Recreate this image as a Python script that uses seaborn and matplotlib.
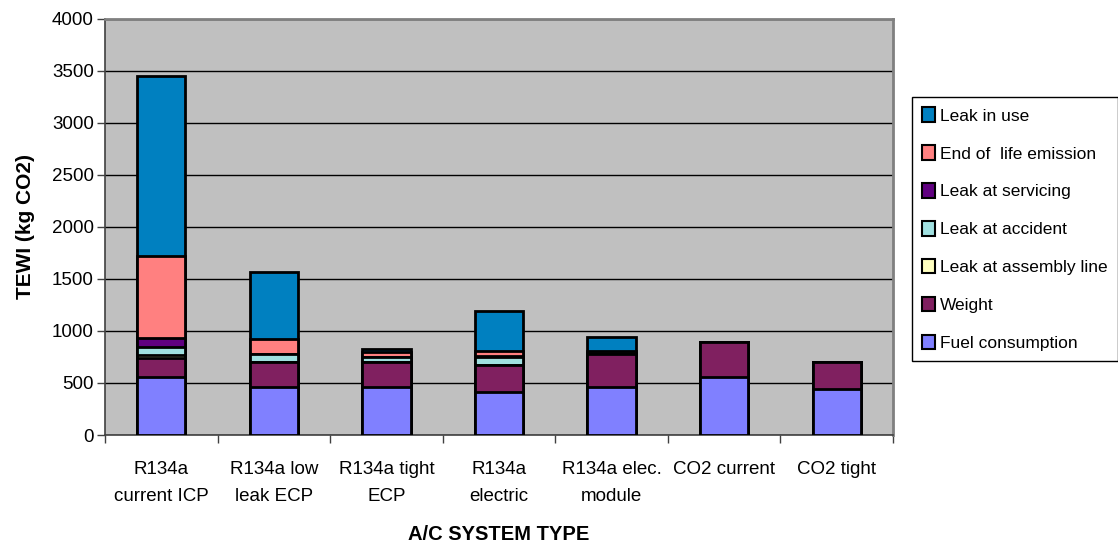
import numpy as np
import pandas as pd
import matplotlib
matplotlib.use("Agg")
import matplotlib.pyplot as plt
from matplotlib.patches import Patch
import seaborn as sns

# categories on the x axis
systems = ["R134a\ncurrent ICP", "R134a low\nleak ECP", "R134a tight\nECP",
           "R134a\nelectric", "R134a elec.\nmodule", "CO2 current", "CO2 tight"]

# stacked components (bottom -> top), kg CO2
fuel_consumption = [555, 465, 465, 410, 465, 555, 445]
weight           = [185, 235, 235, 260, 310, 335, 255]
leak_assembly    = [25, 5, 5, 5, 0, 0, 0]
leak_accident    = [80, 75, 40, 70, 5, 0, 0]
leak_servicing   = [85, 0, 5, 10, 5, 0, 0]
end_of_life      = [785, 145, 45, 50, 20, 0, 0]
leak_in_use      = [1735, 640, 35, 390, 140, 0, 0]

components = ["Fuel consumption", "Weight", "Leak at assembly line",
              "Leak at accident", "Leak at servicing", "End of  life emission",
              "Leak in use"]
colors = ["#8080FF", "#802060", "#FFFFC0", "#A0E0E0", "#600080", "#FF8080", "#0080C0"]

df = pd.DataFrame({
    "Fuel consumption": fuel_consumption,
    "Weight": weight,
    "Leak at assembly line": leak_assembly,
    "Leak at accident": leak_accident,
    "Leak at servicing": leak_servicing,
    "End of  life emission": end_of_life,
    "Leak in use": leak_in_use,
}, index=systems)
cum = df.cumsum(axis=1)

sns.set_style("white")
plt.rcParams["font.family"] = ["Liberation Sans", "DejaVu Sans"]
plt.rcParams["text.color"] = "black"
plt.rcParams["axes.labelcolor"] = "black"
plt.rcParams["xtick.color"] = "black"
plt.rcParams["ytick.color"] = "black"

fig = plt.figure(figsize=(11.18, 5.54), dpi=100)
ax = fig.add_axes([105 / 1118, 1 - 435 / 554, (893 - 105) / 1118, (435 - 18.5) / 554])
ax.set_facecolor("#C0C0C0")

# draw totals first, then smaller cumulative sums on top -> stacked look
for comp, col in reversed(list(zip(components, colors))):
    sns.barplot(x=systems, y=cum[comp].values, color=col, saturation=1,
                width=0.43, edgecolor="black", linewidth=2, ax=ax, zorder=3)

ax.set_ylim(0, 4000)
ax.set_xlim(-0.5, len(systems) - 0.5)
ax.set_yticks(np.arange(0, 4001, 500))
ax.yaxis.grid(True, color="black", linewidth=1, zorder=0)
ax.set_axisbelow(True)

ax.tick_params(axis="y", labelsize=13.5, length=6, width=1, color="#404040",
               direction="out", left=True, pad=2)
ax.tick_params(axis="x", which="major", length=0, labelsize=13.5, pad=19)
ax.set_xticks(np.arange(-0.5, len(systems), 1), minor=True)
ax.tick_params(axis="x", which="minor", length=6, width=1, color="#404040",
               direction="out", bottom=True)
for lab in ax.get_xticklabels():
    lab.set_linespacing(1.75)

for side in ["left", "bottom"]:
    ax.spines[side].set_color("#404040")
    ax.spines[side].set_linewidth(1.2)
for side in ["top", "right"]:
    ax.spines[side].set_color("#808080")
    ax.spines[side].set_linewidth(2)

ax.set_ylabel("TEWI (kg CO2)", fontsize=15, fontweight="bold", labelpad=12)
ax.set_xlabel("A/C SYSTEM TYPE", fontsize=14.5, fontweight="bold", labelpad=14)

handles = [Patch(facecolor=c, edgecolor="black", linewidth=1.5, label=l)
           for l, c in zip(components, colors)][::-1]
leg = fig.legend(handles=handles, loc="upper left",
                 bbox_to_anchor=(912 / 1118, 1 - 97 / 554),
                 fontsize=12.5, frameon=True, fancybox=False,
                 edgecolor="black", framealpha=1, labelspacing=1.25,
                 handlelength=0.7, handleheight=0.9, handletextpad=0.3,
                 borderpad=0.6, borderaxespad=0)
leg.get_frame().set_linewidth(1)

fig.savefig("out.png", dpi=100)
